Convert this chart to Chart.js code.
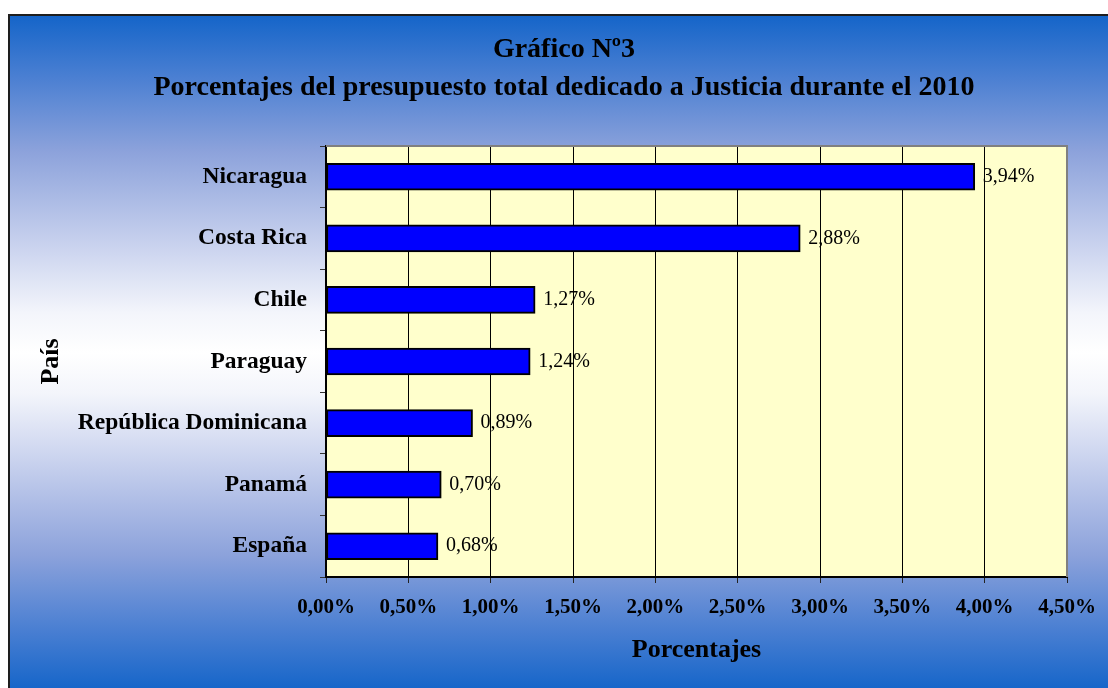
<!DOCTYPE html>
<html>
<head>
<meta charset="utf-8">
<title>Gráfico Nº3</title>
<script src="https://cdn.jsdelivr.net/npm/chart.js@4.4.1/dist/chart.umd.min.js"></script>
<style>
  html, body { margin: 0; padding: 0; background: #fff; overflow: hidden; }
  #fondo {
    position: absolute; left: 8px; top: 14px; width: 1110px; height: 674px;
    border-left: 2px solid #1e1e1e; border-top: 2px solid #1e1e1e;
    background: linear-gradient(to bottom, #1565c9 0%, #4a7fd2 9%, #8ca2db 20%, #c9d2ee 34%, #f3f5fb 44%, #ffffff 50%, #f3f5fb 56%, #c9d2ee 66%, #8ca2db 80%, #4a7fd2 91%, #1565c9 100%);
  }
  #caja { position: absolute; left: 0; top: 0; width: 1108px; height: 688px; }
</style>
</head>
<body>
<div id="fondo"></div>
<div id="caja"><canvas id="myChart" width="1108" height="688"></canvas></div>
<script>
// datos del gráfico
var titulo = ['Gráfico Nº3', 'Porcentajes del presupuesto total dedicado a Justicia durante el 2010'];
var paises = ['Nicaragua', 'Costa Rica', 'Chile', 'Paraguay', 'República Dominicana', 'Panamá', 'España'];
var porcentajes = [3.94, 2.88, 1.27, 1.24, 0.89, 0.70, 0.68];
var etiquetasX = ['0,00%', '0,50%', '1,00%', '1,50%', '2,00%', '2,50%', '3,00%', '3,50%', '4,00%', '4,50%'];

var serif = "'Liberation Serif', 'Times New Roman', serif";

function formato(v) {
  return v.toFixed(2).replace('.', ',') + '%';
}

// fondo amarillo del área de trazado y borde gris arriba/derecha
var areaPlugin = {
  id: 'area',
  beforeDraw: function (chart) {
    var a = chart.chartArea, c = chart.ctx;
    c.save();
    c.fillStyle = '#ffffcc';
    c.fillRect(a.left, a.top, a.right - a.left, a.bottom - a.top);
    c.restore();
  },
  beforeDatasetsDraw: function (chart) {
    var a = chart.chartArea, c = chart.ctx;
    c.save();
    c.strokeStyle = '#808080';
    c.lineWidth = 2;
    c.beginPath();
    c.moveTo(a.left, a.top);
    c.lineTo(a.right, a.top);
    c.lineTo(a.right, a.bottom);
    c.stroke();
    c.restore();
  }
};

// etiquetas de valor al final de cada barra
var valoresPlugin = {
  id: 'valores',
  afterDatasetsDraw: function (chart) {
    var c = chart.ctx;
    var meta = chart.getDatasetMeta(0);
    c.save();
    c.font = '20px ' + serif;
    c.fillStyle = '#000';
    c.textAlign = 'left';
    c.textBaseline = 'middle';
    meta.data.forEach(function (bar, i) {
      c.fillText(formato(porcentajes[i]), bar.x + 8, bar.y);
    });
    c.restore();
  }
};

var ctx = document.getElementById('myChart').getContext('2d');

var myChart = new Chart(ctx, {
  type: 'bar',
  data: {
    labels: paises,
    datasets: [{
      data: porcentajes,
      backgroundColor: '#0000ff',
      borderColor: '#000000',
      borderWidth: 2,
      borderSkipped: false,
      barThickness: 27,
      xAxisID: 'x',
      yAxisID: 'y'
    }]
  },
  options: {
    indexAxis: 'y',
    responsive: false,
    animation: false,
    devicePixelRatio: 1,
    layout: { padding: { left: 20, right: 0, top: 14, bottom: 0 } },
    plugins: {
      legend: { display: false },
      tooltip: { enabled: false },
      title: {
        display: true,
        text: titulo,
        color: '#000',
        font: { family: serif, size: 28, weight: 'bold', lineHeight: '38px' },
        padding: { top: 17, bottom: 39 }
      }
    },
    scales: {
      x: {
        position: 'bottom',
        min: 0,
        max: 4.5,
        afterFit: function (s) { s.height = 111; },
        ticks: {
          stepSize: 0.5,
          color: '#000',
          padding: 12,
          font: { family: serif, size: 21, weight: 'bold' },
          callback: function (v, i) { return etiquetasX[i]; }
        },
        grid: {
          color: function (c) { return c.index === etiquetasX.length - 1 ? 'rgba(0,0,0,0)' : '#000'; },
          tickColor: '#222',
          lineWidth: 1,
          tickLength: 6
        },
        border: { display: true, color: '#000', width: 2 },
        title: {
          display: true,
          text: 'Porcentajes',
          color: '#000',
          font: { family: serif, size: 26, weight: 'bold' },
          padding: { top: 0, bottom: 22 }
        }
      },
      y: {
        position: 'left',
        afterFit: function (s) { s.width = 306; },
        ticks: {
          color: '#000',
          padding: 13,
          font: { family: serif, size: 23.5, weight: 'bold' }
        },
        grid: {
          drawOnChartArea: false,
          offset: true,
          color: '#333',
          tickLength: 6
        },
        border: { display: true, color: '#000', width: 2 },
        title: {
          display: true,
          text: 'País',
          color: '#000',
          font: { family: serif, size: 26, weight: 'bold' },
          padding: { top: 16, bottom: 0 }
        }
      },
      // eje vacío a la derecha para dejar el margen del área de trazado
      margen: {
        type: 'linear',
        position: 'right',
        display: true,
        afterFit: function (s) { s.width = 41; },
        ticks: { display: false },
        grid: { display: false, drawTicks: false },
        border: { display: false }
      }
    }
  },
  plugins: [areaPlugin, valoresPlugin]
});
</script>
</body>
</html>
